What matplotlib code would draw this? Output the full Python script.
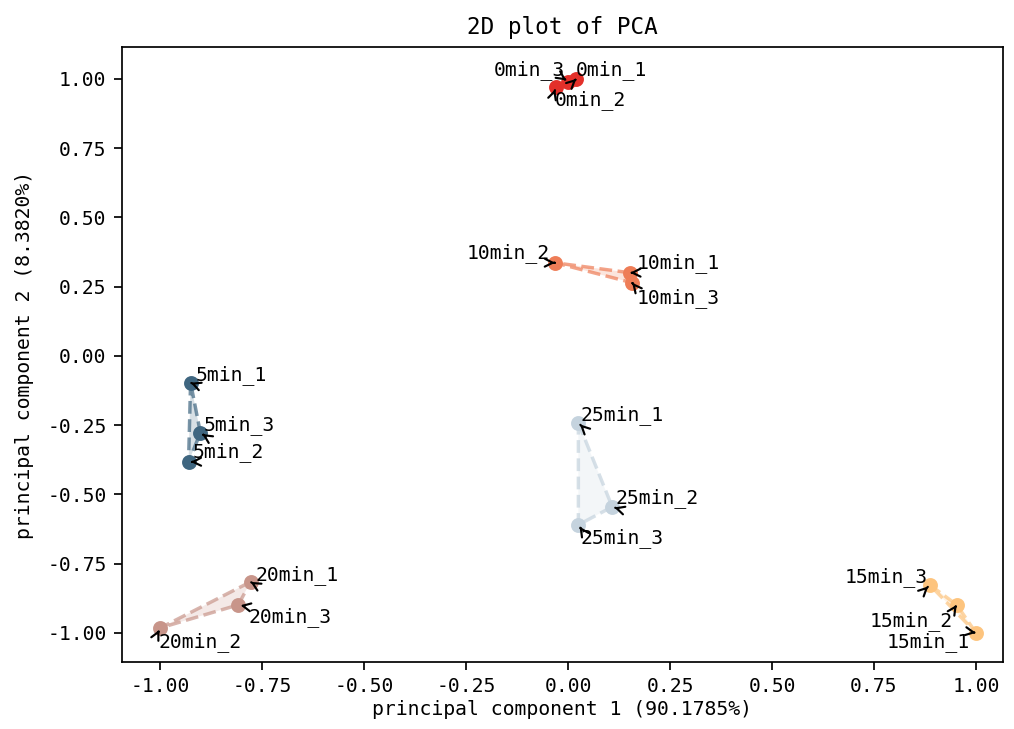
import matplotlib
matplotlib.use("Agg")
import matplotlib.pyplot as plt
from matplotlib import font_manager
import numpy as np

# ---- data ----
groups = ["0min", "5min", "10min", "15min", "20min", "25min"]
pc1 = {
    "0min":  [0.020, -0.030, 0.000],
    "5min":  [-0.926, -0.931, -0.902],
    "10min": [0.152, -0.032, 0.157],
    "15min": [1.000, 0.953, 0.887],
    "20min": [-0.779, -1.000, -0.809],
    "25min": [0.025, 0.108, 0.025],
}
pc2 = {
    "0min":  [1.000, 0.970, 0.990],
    "5min":  [-0.097, -0.383, -0.278],
    "10min": [0.300, 0.336, 0.264],
    "15min": [-1.000, -0.899, -0.827],
    "20min": [-0.816, -0.982, -0.899],
    "25min": [-0.242, -0.545, -0.610],
}
replicates = ["_1", "_2", "_3"]
title = "2D plot of PCA"
xlabel = "principal component 1 (90.1785%)"
ylabel = "principal component 2 (8.3820%)"
xticks = [-1.00, -0.75, -0.50, -0.25, 0.00, 0.25, 0.50, 0.75, 1.00]
yticks = [-1.00, -0.75, -0.50, -0.25, 0.00, 0.25, 0.50, 0.75, 1.00]

# ---- style ----
colors = {
    "0min": "#e3302a",
    "5min": "#3f6680",
    "10min": "#ee7d57",
    "15min": "#fdc47e",
    "20min": "#c8958a",
    "25min": "#c5d3de",
}
# label offsets (pixels) relative to each point, and horizontal alignment
label_offsets = {
    "0min":  [(-1, 4), (-1, -18), (-3, 7)],
    "5min":  [(5, 3), (4, 5), (3, 3)],
    "10min": [(6, 5), (-5, 5), (4, -20)],
    "15min": [(-6, -14), (-4, -21), (-2, 3)],
    "20min": [(5, 2), (-2, -19), (10, -17)],
    "25min": [(2, 3), (3, 4), (2, -18)],
}
label_ha = {
    "0min":  ["left", "left", "right"],
    "5min":  ["left", "left", "left"],
    "10min": ["left", "right", "left"],
    "15min": ["right", "right", "right"],
    "20min": ["left", "left", "left"],
    "25min": ["left", "left", "left"],
}

names = {f.name for f in font_manager.fontManager.ttflist}
if "Noto Sans Mono CJK SC" in names:
    fam = ["Noto Sans Mono CJK SC", "DejaVu Sans Mono"]
    base = 10
else:
    fam = ["DejaVu Sans Mono"]
    base = 9.2
plt.rcParams["font.family"] = fam
plt.rcParams["font.size"] = base

DPI = 155
fig = plt.figure(figsize=(1014 / DPI, 729 / DPI), dpi=DPI)
ax = fig.add_axes([0.120, 0.092, 0.869, 0.8435])

for g in groups:
    xs = np.array(pc1[g])
    ys = np.array(pc2[g])
    c = colors[g]
    ax.fill(xs, ys, color=c, alpha=0.2, lw=0)
    ax.plot(np.append(xs, xs[0]), np.append(ys, ys[0]), ls="--", color=c,
            lw=1.6, alpha=0.7)
    ax.scatter(xs, ys, s=35, color=c, zorder=3)
    for i, r in enumerate(replicates):
        dx, dy = label_offsets[g][i]
        ha = label_ha[g][i]
        rel = (0.0 if ha == "left" else 1.0, 0.0 if dy > 0 else 1.0)
        ax.annotate(g + r, xy=(xs[i], ys[i]), xytext=(dx, dy),
                    textcoords="offset pixels", fontsize=base, ha=ha,
                    arrowprops=dict(arrowstyle="->", color="black", lw=1,
                                    shrinkA=0, shrinkB=1, relpos=rel))

ax.set_xlim(-1.095, 1.066)
ax.set_ylim(-1.105, 1.115)
ax.set_xticks(xticks)
ax.set_yticks(yticks)
ax.set_xticklabels([f"{v:.2f}" for v in xticks])
ax.set_yticklabels([f"{v:.2f}" for v in yticks])
ax.set_title(title, fontsize=10.5)
ax.set_xlabel(xlabel, labelpad=2)
ax.set_ylabel(ylabel, labelpad=6)

fig.savefig("out.png", dpi=DPI)
